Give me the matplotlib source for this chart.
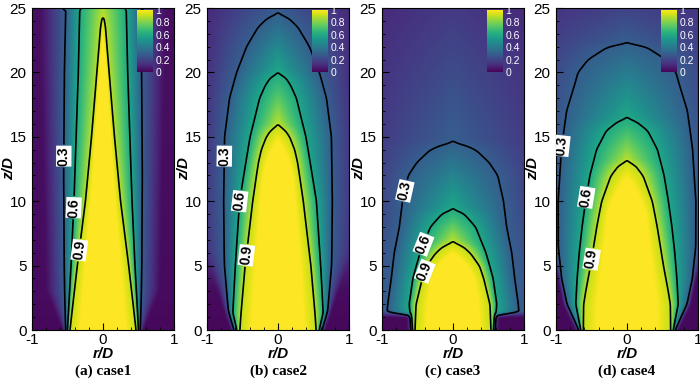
import numpy as np
import matplotlib
matplotlib.use("Agg")
import matplotlib.pyplot as plt
from matplotlib.ticker import MultipleLocator

plt.rcParams['font.family'] = ['Liberation Sans', 'DejaVu Sans']
plt.rcParams['axes.unicode_minus'] = False

# Data: half-widths r/D of the 0.9, 0.6 and 0.3 contours
captions = ['(a) case1', '(b) case2', '(c) case3', '(d) case4']
levels = [0.3, 0.6, 0.9]
cbar_ticks = [0, 0.2, 0.4, 0.6, 0.8, 1]
cbar_labels = ['0', '0.2', '0.4', '0.6', '0.8', '1']

# case1
c1_z9 = [0, 5, 10, 15, 20, 22, 23.5, 24.5]
c1_r9 = [0.48, 0.37, 0.25, 0.16, 0.08, 0.05, 0.03, 0.0]
c1_z6 = [0, 5, 10, 15, 20, 25]
c1_r6 = [0.50, 0.45, 0.41, 0.38, 0.35, 0.33]
c1_z3 = [0, 5, 12, 20, 25]
c1_r3 = [0.52, 0.54, 0.55, 0.54, 0.52]
c1_zo = [0, 3, 25]
c1_ro = [0.56, 0.80, 0.88]
c1_vo = [0.02, 0.03, 0.04]
c1_zc = [0, 20, 24.5, 25]
c1_cc = [1.2, 1.2, 0.9, 0.88]

# case2
c2_z9 = [0, 5, 10, 13, 14, 15, 15.5, 16]
c2_r9 = [0.55, 0.47, 0.36, 0.28, 0.24, 0.17, 0.11, 0.0]
c2_z6 = [0, 1.3, 5, 10, 15, 18, 19, 19.6, 20]
c2_r6 = [0.58, 0.64, 0.60, 0.54, 0.39, 0.26, 0.18, 0.11, 0.0]
c2_z3 = [0, 1.5, 5, 10, 15, 18, 20, 22, 23.5, 24.2, 24.6]
c2_r3 = [0.62, 0.70, 0.75, 0.76, 0.75, 0.68, 0.58, 0.44, 0.28, 0.15, 0.0]
c2_zo = [0, 3, 6, 10, 25]
c2_ro = [0.66, 0.85, 1.05, 1.05, 1.05]
c2_vo = [0.02, 0.03, 0.12, 0.15, 0.11]
c2_zc = [0, 12, 16, 20, 24.6, 25]
c2_cc = [1.2, 1.2, 0.9, 0.6, 0.3, 0.29]

# case3
c3_z9 = [0, 2, 4, 5, 6, 6.5, 6.9]
c3_r9 = [0.55, 0.53, 0.44, 0.38, 0.25, 0.15, 0.0]
c3_z6 = [0, 2, 4, 6, 8, 9, 9.2, 9.4]
c3_r6 = [0.57, 0.61, 0.56, 0.46, 0.32, 0.16, 0.10, 0.0]
c3_z3 = [0, 1.1, 1.3, 2, 4, 6, 8, 10, 12, 13, 14, 14.4, 14.6]
c3_r3 = [0.59, 0.60, 0.92, 0.91, 0.86, 0.82, 0.75, 0.71, 0.63, 0.51, 0.32, 0.15, 0.0]
c3_zo = [0, 1.1, 1.3, 5, 10, 15, 25]
c3_ro = [0.64, 0.64, 1.05, 1.05, 1.05, 1.05, 1.05]
c3_vo = [0.02, 0.02, 0.28, 0.26, 0.20, 0.17, 0.12]
c3_zc = [0, 4, 6.9, 9.4, 14.6, 25]
c3_cc = [1.2, 1.2, 0.9, 0.6, 0.3, 0.17]

# case4
c4_z9 = [0, 2, 3, 5, 8, 10, 12, 12.8, 13.2]
c4_r9 = [0.63, 0.62, 0.59, 0.52, 0.43, 0.36, 0.23, 0.12, 0.0]
c4_z6 = [0, 2, 4, 6, 8, 10, 12, 14, 15.5, 16.2, 16.5]
c4_r6 = [0.65, 0.72, 0.70, 0.67, 0.63, 0.58, 0.52, 0.43, 0.29, 0.13, 0.0]
c4_z3 = [0, 2, 4, 6, 10, 14, 17, 19, 20, 21, 22, 22.2, 22.3]
c4_r3 = [0.68, 0.85, 0.93, 0.96, 0.96, 0.92, 0.85, 0.74, 0.69, 0.55, 0.27, 0.12, 0.0]
c4_zo = [0, 2, 4, 6.5, 10, 20, 25]
c4_ro = [0.72, 0.90, 0.97, 1.05, 1.05, 1.05, 1.05]
c4_vo = [0.02, 0.02, 0.02, 0.28, 0.29, 0.22, 0.15]
c4_zc = [0, 9, 13.2, 16.5, 22.3, 25]
c4_cc = [1.2, 1.2, 0.9, 0.6, 0.3, 0.2]

cases = [
    (c1_z9, c1_r9, c1_z6, c1_r6, c1_z3, c1_r3, c1_zo, c1_ro, c1_vo, c1_zc, c1_cc),
    (c2_z9, c2_r9, c2_z6, c2_r6, c2_z3, c2_r3, c2_zo, c2_ro, c2_vo, c2_zc, c2_cc),
    (c3_z9, c3_r9, c3_z6, c3_r6, c3_z3, c3_r3, c3_zo, c3_ro, c3_vo, c3_zc, c3_cc),
    (c4_z9, c4_r9, c4_z6, c4_r6, c4_z3, c4_r3, c4_zo, c4_ro, c4_vo, c4_zc, c4_cc),
]

# contour label spots (data coords)
label_pos = [
    [(-0.55, 13.5), (-0.42, 9.5), (-0.33, 6.2)],
    [(-0.75, 13.5), (-0.54, 10.0), (-0.45, 5.8)],
    [(-0.68, 10.8), (-0.48, 6.8), (-0.42, 4.6)],
    [(-0.92, 14.3), (-0.58, 10.3), (-0.50, 5.5)],
]

r = np.linspace(-1, 1, 401)
z = np.linspace(0, 25, 501)


def build_field(z9, r9, z6, r6, z3, r3, zo, ro, vo, zc, cc):
    F = np.zeros((len(z), len(r)))
    ar = np.abs(r)
    for i, zz in enumerate(z):
        kr = [0.0]
        kv = [np.interp(zz, zc, cc)]
        for zl, rl, lv in ((z9, r9, 0.9), (z6, r6, 0.6), (z3, r3, 0.3)):
            if zz < zl[-1]:
                rr = np.interp(zz, zl, rl)
                if rr > kr[-1] + 1e-3:
                    kr.append(rr)
                    kv.append(lv)
        kr.append(max(np.interp(zz, zo, ro), kr[-1] + 0.01))
        kv.append(np.interp(zz, zo, vo))
        F[i] = np.interp(ar, kr, kv)
    # light box smoothing
    for axis, n in ((1, 9), (0, 9)):
        pad = [(0, 0), (0, 0)]
        pad[axis] = (n // 2, n // 2)
        P = np.pad(F, pad, mode='edge')
        C = np.cumsum(P, axis=axis)
        C = np.insert(C, 0, 0, axis=axis)
        F = (np.take(C, range(n, C.shape[axis]), axis=axis)
             - np.take(C, range(0, C.shape[axis] - n), axis=axis)) / n
    return F


fig, axes = plt.subplots(1, 4, figsize=(7, 3.81), dpi=100)
lefts = [32, 207, 382, 556]

for k, ax in enumerate(axes):
    ax.set_position([lefts[k] / 700, 51 / 381, 142 / 700, 322 / 381])
    F = build_field(*cases[k])
    im = ax.imshow(F, extent=[-1, 1, 0, 25], origin='lower', aspect='auto',
                   cmap='viridis', vmin=0, vmax=1, interpolation='bilinear')
    cs = ax.contour(r, z, F, levels=levels, colors='k', linewidths=1.2)
    txts = ax.clabel(cs, fmt='%.1f', fontsize=10, inline=True, inline_spacing=2,
                     manual=label_pos[k])
    for t in txts:
        t.set_fontweight('bold')
        t.set_bbox(dict(facecolor='white', edgecolor='none', pad=0.5))

    ax.set_xlim(-1, 1)
    ax.set_ylim(0, 25)
    ax.set_xticks([-1, 0, 1])
    ax.set_yticks([0, 5, 10, 15, 20, 25])
    ax.xaxis.set_minor_locator(MultipleLocator(0.2))
    ax.yaxis.set_minor_locator(MultipleLocator(1))
    ax.tick_params(which='both', direction='in', labelsize=11, top=False, right=False)
    ax.tick_params(which='major', length=5)
    ax.tick_params(which='minor', length=2.5)
    ax.tick_params(axis='x', pad=2)
    ax.tick_params(axis='y', pad=4)
    ax.set_xlabel('r/D', fontsize=11, fontweight='bold', fontstyle='italic')
    ax.set_ylabel('z/D', fontsize=11, fontweight='bold', fontstyle='italic')
    ax.xaxis.set_label_coords(0.5, -0.052)
    ax.yaxis.set_label_coords(-0.115, 0.5)
    ax.text(0.5, -0.128, captions[k], transform=ax.transAxes, ha='center', va='center',
            fontsize=11, fontweight='bold', family='Liberation Serif')

    cax = ax.inset_axes([0.74, 0.80, 0.11, 0.194])
    cb = fig.colorbar(im, cax=cax)
    cb.outline.set_visible(False)
    cb.set_ticks(cbar_ticks)
    cb.set_ticklabels(cbar_labels)
    cax.tick_params(length=0, labelsize=7.5, labelcolor='white', pad=2)

plt.savefig('out.png', dpi=100)
